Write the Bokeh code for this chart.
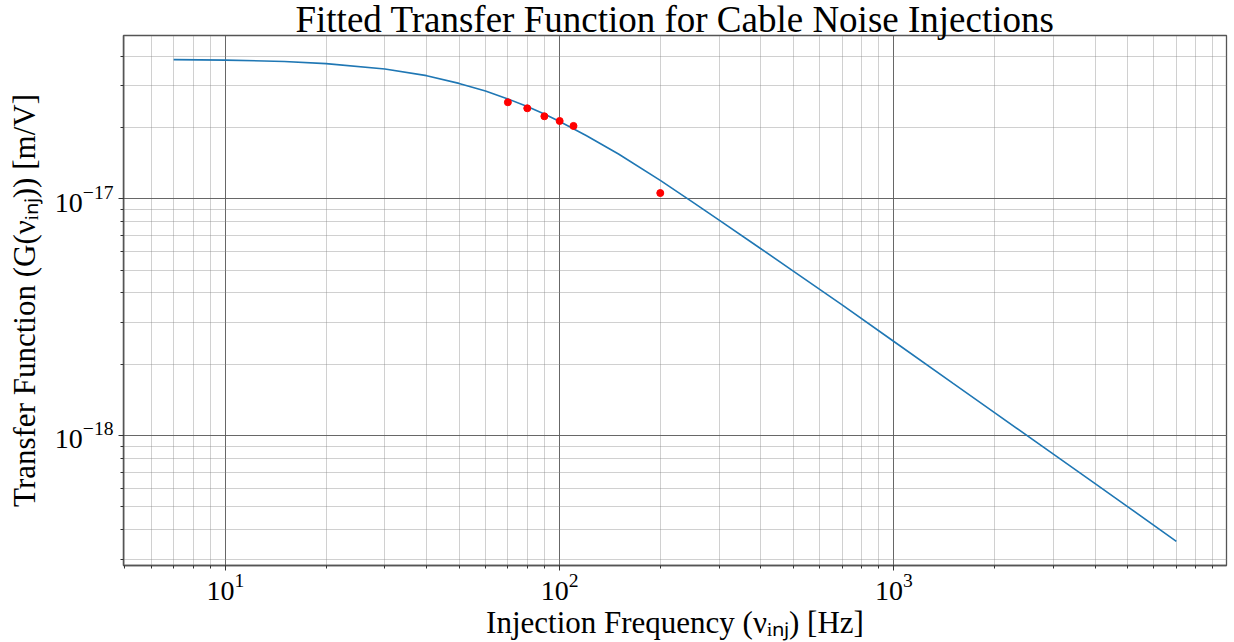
import numpy as np
from bokeh.plotting import figure
from bokeh.models import Range1d
from bokeh.embed import file_html
from bokeh.resources import INLINE

# Fitted transfer-function curve
curve_freq = [7, 10, 15, 20, 30, 40, 50, 60, 70, 80, 90, 100, 120, 150, 200, 250,
              300, 400, 500, 700, 1000, 1500, 2000, 3000, 4000, 5000, 7000]
curve_gain = [3.87e-17, 3.85e-17, 3.80e-17, 3.72e-17, 3.53e-17, 3.31e-17, 3.07e-17,
              2.85e-17, 2.64e-17, 2.45e-17, 2.28e-17, 2.12e-17, 1.85e-17, 1.545e-17,
              1.195e-17, 9.68e-18, 8.12e-18, 6.15e-18, 4.95e-18, 3.56e-18, 2.495e-18,
              1.665e-18, 1.25e-18, 8.34e-19, 6.26e-19, 5.01e-19, 3.57e-19]

# Measured injection points
pt_freq = [70, 80, 90, 100, 110, 200]
pt_gain = [2.555e-17, 2.41e-17, 2.23e-17, 2.13e-17, 2.03e-17, 1.057e-17]

title_text = "Fitted Transfer Function for Cable Noise Injections"
x_label = "Injection Frequency (\u03bd\u1d62\u2099\u2c7c) [Hz]"
y_label = "Transfer Function (G(\u03bd\u1d62\u2099\u2c7c)) [m/V]"

# log-space 5% padding like matplotlib
lx = np.log10(curve_freq)
ly = np.log10(curve_gain)
mx = 0.05 * (lx.max() - lx.min())
my = 0.05 * (ly.max() - ly.min())
x_range = Range1d(10 ** (lx.min() - mx), 10 ** (lx.max() + mx))
y_range = Range1d(10 ** (ly.min() - my), 10 ** (ly.max() + my))

FONT = "Liberation Serif"

p = figure(width=1234, height=642, x_axis_type="log", y_axis_type="log",
           x_range=x_range, y_range=y_range, output_backend="svg",
           toolbar_location=None, min_border_left=123, min_border_right=8,
           min_border_top=35, min_border_bottom=77)
p.background_fill_color = "white"
p.border_fill_color = "white"
p.outline_line_color = "#555555"
p.outline_line_width = 1.3

p.title.text = title_text
p.title.align = "center"
p.title.text_font = FONT
p.title.text_font_size = "37px"
p.title.text_font_style = "normal"
p.title.text_color = "black"
p.title.standoff = -8

# grids
for g in (p.xgrid, p.ygrid):
    g.grid_line_color = "#555555"
    g.grid_line_width = 0.9
    g.grid_line_alpha = 0.9
    g.minor_grid_line_color = "#888888"
    g.minor_grid_line_width = 0.8
    g.minor_grid_line_dash = "1 1"

for ax in (p.xaxis, p.yaxis):
    ax.axis_line_color = "#555555"
    ax.axis_line_width = 1.3
    ax.major_tick_line_color = "#333333"
    ax.minor_tick_line_color = "#333333"
    ax.major_tick_in = 0
    ax.major_tick_out = 5
    ax.minor_tick_in = 0
    ax.minor_tick_out = 3
    ax.major_label_text_font = FONT
    ax.major_label_text_font_size = "28px"
    ax.major_label_text_color = "black"
    ax.axis_label_text_font = FONT
    ax.axis_label_text_font_size = "31px"
    ax.axis_label_text_font_style = "normal"
    ax.axis_label_text_color = "black"

p.xaxis.axis_label = x_label
p.yaxis.axis_label = y_label
p.xaxis.major_label_standoff = 3
p.yaxis.major_label_standoff = 5
p.xaxis.axis_label_standoff = 2
p.yaxis.axis_label_standoff = 10

p.line(curve_freq, curve_gain, line_color="#1f77b4", line_width=1.6)
p.scatter(pt_freq, pt_gain, size=7, fill_color="red", line_color="red")

open("out.html", "w").write(file_html(p, INLINE))
